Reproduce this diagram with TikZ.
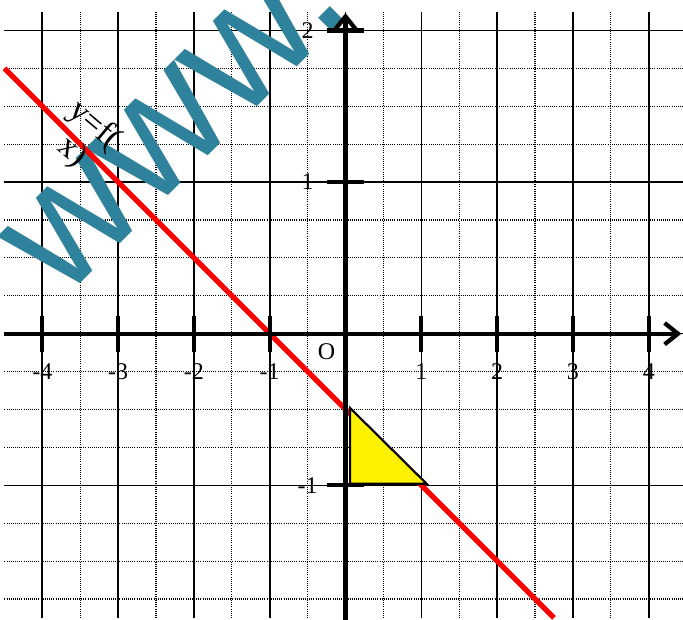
\documentclass[tikz,border=0pt]{standalone}
\usepackage{fontspec}
\setmainfont{Liberation Serif}
\newfontfamily\wmfont{Liberation Sans}
\usetikzlibrary{arrows.meta}
\definecolor{wmteal}{RGB}{47,130,156}

\begin{document}
\begin{tikzpicture}[>={Straight Barb[length=5pt,width=8pt]}, x=1cm, y=2cm,
    minorgrid/.style={line width=0.45pt, dash pattern=on 0.35pt off 0.45pt},
    majorgrid/.style={line width=0.6pt},
    axisline/.style={line width=1.6pt, ->},
    tickmark/.style={line width=1.6pt},
    ticklabel/.style={font=\fontsize{9}{10}\selectfont, inner sep=1pt}]
  \useasboundingbox (-4.558,-1.887) rectangle (4.452,2.201);
  % ---------------------------------------------------------------- the grid
  \foreach \gy in {-1.75,-1.5,...,2.1} \draw[minorgrid] (-4.5,\gy) -- (4.5,\gy);
  \foreach \gx in {-4,-3.5,...,4.1} \draw[minorgrid] (\gx,-1.875) -- (\gx,2.125);
  \foreach \gy in {-1,0,1,2} \draw[majorgrid] (-4.5,\gy) -- (4.5,\gy);
  \foreach \gx in {-4,...,4} \draw[majorgrid] (\gx,-1.875) -- (\gx,2.125);
  % ---------------------------------------------------------------- the watermark
  \node[rotate=45, anchor=base west, inner sep=0pt, text=wmteal,
        font=\wmfont\fontsize{65}{65}\selectfont] (watermark) at (-3.74,0.21) {www.};
  % ---------------------------------------------------------------- the line y = f(x)
  \draw[red, line width=2pt] (-4.5,1.75) -- (2.75,-1.875);
  \node[rotate=-40, align=center, inner sep=0pt,
        font=\fontsize{12.5}{13}\selectfont] (curvelab) at (-3.46,1.285) {y=f(\\x)};
  % the slope triangle
  \draw[fill=yellow, line width=0.8pt] (0.06,-0.49) -- (0.06,-0.99) -- (1.07,-0.99) -- cycle;
  % ---------------------------------------------------------------- axes and ticks
  \draw[axisline] (-4.5,0) -- (4.43,0);
  \draw[axisline] (0,-1.9) -- (0,2.115);
  \draw[tickmark] (-4,-0.12) -- (-4,0.12);
  \draw[tickmark] (-3,-0.12) -- (-3,0.12);
  \draw[tickmark] (-2,-0.12) -- (-2,0.12);
  \draw[tickmark] (-1,-0.12) -- (-1,0.12);
  \draw[tickmark] (1,-0.12) -- (1,0.12);
  \draw[tickmark] (2,-0.12) -- (2,0.12);
  \draw[tickmark] (3,-0.12) -- (3,0.12);
  \draw[tickmark] (4,-0.12) -- (4,0.12);
  \draw[tickmark] (-0.25,2) -- (0.25,2);
  \draw[tickmark] (-0.25,1) -- (0.25,1);
  \draw[tickmark] (-0.25,-1) -- (0.25,-1);
  % ---------------------------------------------------------------- labels
  \node[ticklabel] (xlabm4) at (-4,-0.253) {-4};
  \node[ticklabel] (xlabm3) at (-3,-0.253) {-3};
  \node[ticklabel] (xlabm2) at (-2,-0.253) {-2};
  \node[ticklabel] (xlabm1) at (-1,-0.253) {-1};
  \node[ticklabel] (xlab1) at (1,-0.253) {1};
  \node[ticklabel] (xlab2) at (2,-0.253) {2};
  \node[ticklabel] (xlab3) at (3,-0.253) {3};
  \node[ticklabel] (xlab4) at (4,-0.253) {4};
  \node[ticklabel] (ylab2) at (-0.5,2) {2};
  \node[ticklabel] (ylab1) at (-0.5,1) {1};
  \node[ticklabel] (ylabm1) at (-0.5,-1) {-1};
  \node[ticklabel] (origin) at (-0.25,-0.12) {O};
\end{tikzpicture}
\end{document}
